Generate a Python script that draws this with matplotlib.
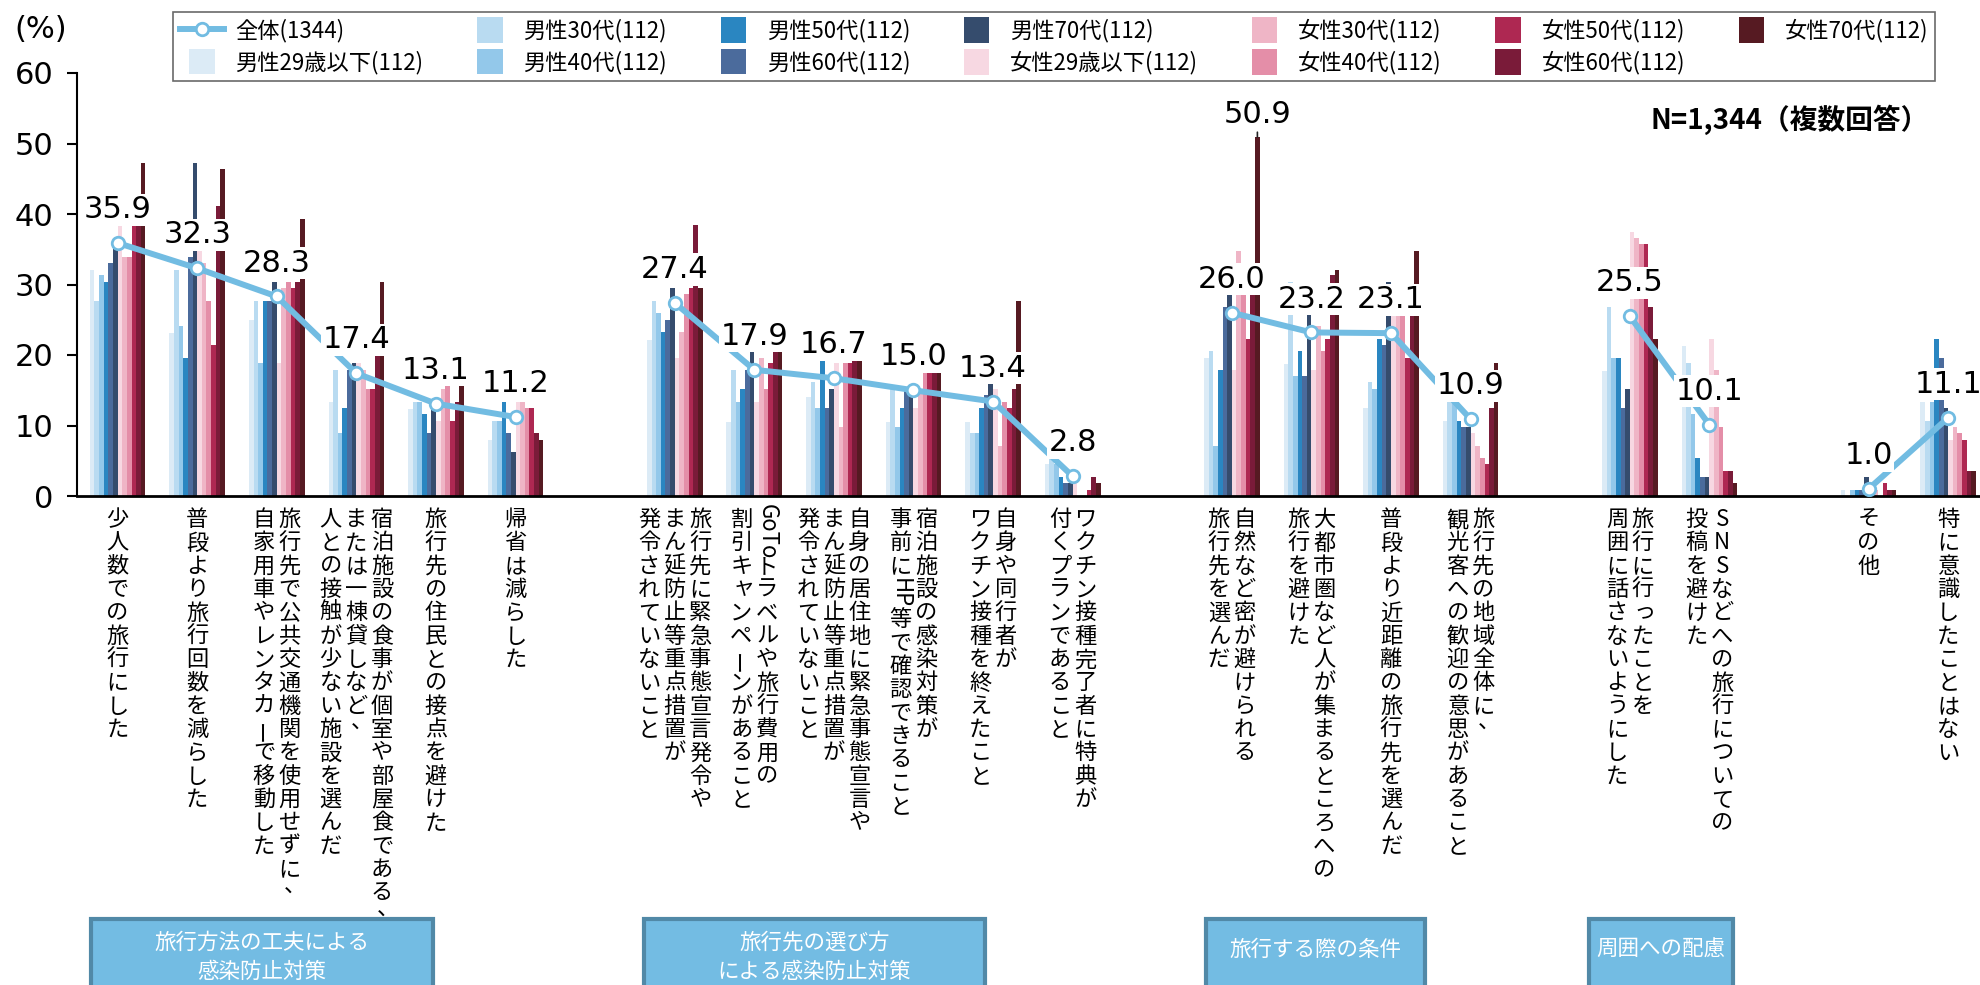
import re

import matplotlib
matplotlib.use("Agg")
import matplotlib.pyplot as plt
from matplotlib.lines import Line2D
from matplotlib.patches import Rectangle
from matplotlib.legend_handler import HandlerPatch

plt.rcParams["font.family"] = ["Noto Sans CJK JP", "DejaVu Sans"]

# ---- data -----------------------------------------------------------------
categories = [
    ["少人数での旅行にした"],
    ["普段より旅行回数を減らした"],
    ["旅行先で公共交通機関を使用せずに、", "自家用車やレンタカーで移動した"],
    ["宿泊施設の食事が個室や部屋食である、", "または一棟貸しなど、", "人との接触が少ない施設を選んだ"],
    ["旅行先の住民との接点を避けた"],
    ["帰省は減らした"],
    ["旅行先に緊急事態宣言発令や", "まん延防止等重点措置が", "発令されていないこと"],
    ["GoToトラベルや旅行費用の", "割引キャンペーンがあること"],
    ["自身の居住地に緊急事態宣言や", "まん延防止等重点措置が", "発令されていないこと"],
    ["宿泊施設の感染対策が", "事前にHP等で確認できること"],
    ["自身や同行者が", "ワクチン接種を終えたこと"],
    ["ワクチン接種完了者に特典が", "付くプランであること"],
    ["自然など密が避けられる", "旅行先を選んだ"],
    ["大都市圏など人が集まるところへの", "旅行を避けた"],
    ["普段より近距離の旅行先を選んだ"],
    ["旅行先の地域全体に、", "観光客への歓迎の意思があること"],
    ["旅行に行ったことを", "周囲に話さないようにした"],
    ["SNSなどへの旅行についての", "投稿を避けた"],
    ["その他"],
    ["特に意識したことはない"],
]
positions = [0, 1, 2, 3, 4, 5, 7, 8, 9, 10, 11, 12, 14, 15, 16, 17, 19, 20, 22, 23]
line_groups = [range(0, 6), range(6, 12), range(12, 16), range(16, 18), range(18, 20)]

overall = [35.9, 32.3, 28.3, 17.4, 13.1, 11.2, 27.4, 17.9, 16.7, 15.0,
           13.4, 2.8, 26.0, 23.2, 23.1, 10.9, 25.5, 10.1, 1.0, 11.1]

m29 = [32.1, 23.1, 24.9, 13.3, 12.4, 7.9, 22.1, 10.5, 14.1, 10.5, 10.5, 4.5, 19.6, 18.7, 12.5, 10.6, 17.7, 21.3, 0.9, 13.4]
m30 = [27.7, 32.1, 27.7, 17.9, 13.4, 10.7, 27.7, 17.9, 16.1, 15.2, 8.9, 5.4, 20.5, 30.4, 16.1, 13.4, 26.8, 18.8, 0.0, 10.7]
m40 = [31.3, 24.1, 18.8, 8.9, 13.4, 10.7, 25.9, 13.4, 12.5, 9.8, 8.9, 4.5, 7.1, 17.0, 15.2, 13.4, 19.6, 11.6, 0.9, 13.4]
m50 = [30.4, 19.6, 27.7, 12.5, 11.6, 13.4, 23.2, 15.2, 19.6, 12.5, 12.5, 2.7, 17.9, 20.5, 22.3, 10.7, 19.6, 5.4, 0.9, 22.3]
m60 = [33.0, 33.9, 27.7, 17.9, 8.9, 8.9, 25.0, 17.9, 12.5, 15.2, 14.3, 1.8, 26.8, 17.0, 21.4, 9.8, 12.5, 2.7, 0.9, 19.6]
m70 = [35.7, 47.3, 30.4, 18.8, 12.5, 6.3, 29.5, 20.5, 15.2, 15.2, 16.1, 1.8, 28.6, 25.9, 30.4, 9.8, 15.2, 2.7, 2.7, 12.5]
f29 = [38.4, 34.8, 18.8, 18.8, 10.7, 13.4, 19.6, 13.4, 18.8, 12.5, 15.2, 1.8, 17.9, 17.9, 25.9, 8.9, 37.5, 22.3, 0.9, 8.0]
f30 = [33.9, 33.0, 29.5, 17.9, 15.2, 13.4, 23.2, 19.6, 9.8, 15.2, 7.1, 0.0, 34.8, 24.1, 25.9, 7.1, 36.6, 17.9, 0.9, 9.8]
f40 = [33.9, 27.7, 30.4, 15.2, 15.6, 12.5, 28.6, 15.2, 18.8, 17.9, 13.4, 0.0, 28.6, 20.5, 25.9, 5.4, 35.7, 9.8, 0.0, 8.9]
f50 = [38.4, 21.4, 29.5, 15.2, 10.7, 12.5, 29.5, 18.8, 18.8, 17.9, 12.5, 0.9, 22.3, 22.3, 19.6, 4.5, 35.7, 3.6, 1.8, 8.0]
f60 = [38.4, 41.1, 30.4, 20.5, 13.4, 8.9, 38.4, 20.5, 19.6, 17.9, 15.2, 2.7, 28.6, 31.3, 25.9, 12.5, 26.8, 3.6, 0.9, 3.6]
f70 = [47.3, 46.4, 39.3, 30.4, 15.6, 8.0, 29.5, 20.5, 19.6, 17.9, 27.7, 1.8, 50.9, 32.1, 34.8, 18.8, 22.3, 1.8, 0.9, 3.6]

series = [m29, m30, m40, m50, m60, m70, f29, f30, f40, f50, f60, f70]
series_labels = ["男性29歳以下(112)", "男性30代(112)", "男性40代(112)", "男性50代(112)",
                 "男性60代(112)", "男性70代(112)", "女性29歳以下(112)", "女性30代(112)",
                 "女性40代(112)", "女性50代(112)", "女性60代(112)", "女性70代(112)"]
series_colors = ["#dcebf6", "#b9dbf1", "#93c8ea", "#2a86c1", "#4b6b9c", "#354c6d",
                 "#f7d8e2", "#efb5c6", "#e48ea8", "#ae2852", "#7a1b39", "#561a22"]

group_boxes = [
    (91, 433, ["旅行方法の工夫による", "感染防止対策"]),
    (644, 985, ["旅行先の選び方", "による感染防止対策"]),
    (1206, 1425, ["旅行する際の条件"]),
    (1589, 1733, ["周囲への配慮"]),
]

LINE = "#72bce2"
W, H = 1980, 985

fig = plt.figure(figsize=(W / 100, H / 100), dpi=100)
ax = fig.add_axes([77 / W, 1 - 496 / H, 1 - 77 / W, (496 - 73) / H])

# ---- bars -------------------------------------------------------------------
bw = 0.70 / 12
for k, (vals, col) in enumerate(zip(series, series_colors)):
    xs = [p + (k - 5.5) * bw for p in positions]
    ax.bar(xs, vals, width=bw, color=col, linewidth=0, zorder=2)

# ---- overall line, one segment per group ------------------------------------
for g in line_groups:
    xs = [positions[i] for i in g]
    ys = [overall[i] for i in g]
    ax.plot(xs, ys, color=LINE, lw=4.3, marker="o", ms=9, mfc="white", mec=LINE,
            mew=2, zorder=5, solid_capstyle="butt")

for x, v in zip(positions, overall):
    ax.annotate(f"{v:.1f}", (x, v), xytext=(0, 24), textcoords="offset points",
                ha="center", va="center", fontsize=22, family="DejaVu Sans",
                bbox=dict(boxstyle="square,pad=0.05", fc="white", ec="none"), zorder=6)

# callout for the tallest bar
ax.annotate(f"{f70[12]:.1f}", (positions[12] + 5.5 * bw, f70[12]), xytext=(0, 16),
            textcoords="offset points", ha="center", va="center", fontsize=22,
            family="DejaVu Sans", zorder=6,
            arrowprops=dict(arrowstyle="-", color="#222222", lw=1.2, shrinkA=0, shrinkB=0))

# ---- axes styling -----------------------------------------------------------
ax.set_xlim(-0.51, 23.40)
ax.set_ylim(0, 60)
ax.set_xticks([])
ax.set_yticks(range(0, 61, 10))
ax.tick_params(axis="y", length=7, width=1.5, pad=10, labelsize=22)
for t in ax.get_yticklabels():
    t.set_family("DejaVu Sans")
ax.spines[["top", "right"]].set_visible(False)
ax.spines["left"].set_linewidth(1.5)
ax.spines["bottom"].set_linewidth(2)

fig.text(41 / W, 1 - 30 / H, "(%)", ha="center", va="center", fontsize=22,
         family="DejaVu Sans")
fig.text(1790 / W, 1 - 120 / H, "N=1,344（複数回答）", ha="center", va="center",
         fontsize=20, fontweight="bold")

# ---- vertical (tategaki) category labels --------------------------------------
PITCH = 16.8      # points per character cell
COLSP = 18.5      # points between columns
TOP0 = -8.6       # top of first cell below the axis line
TOKLEN = {"GoTo": 2.0, "HP": 1.3}
SMALL = set("ャュョッゃゅょっ")

for x, cols in zip(positions, categories):
    n = len(cols)
    for j, col in enumerate(cols):
        dx = ((n - 1) / 2 - j) * COLSP
        y = TOP0
        for tok in re.findall(r"GoTo|HP|.", col):
            ln = TOKLEN.get(tok, 1.0)
            cy = y - ln * PITCH / 2
            y -= ln * PITCH
            rot, ox, oy = 0, 0, 0
            if tok in TOKLEN:
                rot = -90
            elif tok == "ー":
                rot = 90
            elif tok == "、":
                ox, oy = 0.25 * PITCH, 0.3 * PITCH
            elif tok in SMALL:
                ox, oy = 0.1 * PITCH, 0.1 * PITCH
            ax.annotate(tok, xy=(x, 0), xycoords=("data", "axes fraction"),
                        xytext=(dx + ox, cy + oy), textcoords="offset points",
                        ha="center", va="center", fontsize=16, rotation=rot,
                        annotation_clip=False)

# ---- group boxes at the bottom ------------------------------------------------
for x0, x1, lines in group_boxes:
    top = 1 - 919 / H
    fig.add_artist(Rectangle((x0 / W, -0.05), (x1 - x0) / W, top + 0.05,
                             transform=fig.transFigure, fc="#73bce3", ec="#5189a7", lw=3))
    cx = (x0 + x1) / 2 / W
    if len(lines) == 2:
        ys = [943, 972]
    else:
        ys = [950]
    for s, yy in zip(lines, ys):
        fig.text(cx, 1 - yy / H, s, ha="center", va="center", fontsize=15.5, color="white")

# ---- legend -------------------------------------------------------------------
def square(legend, orig_handle, xdescent, ydescent, width, height, fontsize):
    s = 1.15 * fontsize
    return Rectangle((-xdescent + (width - s) / 2, -ydescent + (height - s) / 2), s, s)


handles = [Line2D([], [], color=LINE, lw=4.3, marker="o", ms=9, mfc="white", mec=LINE, mew=2)]
handles += [Rectangle((0, 0), 1, 1, fc=c, lw=0) for c in series_colors]
labels = ["全体(1344)"] + series_labels
leg = fig.legend(handles, labels, loc="lower left",
                 bbox_to_anchor=(173 / W, 1 - 81 / H, (1935 - 173) / W, 76 / H),
                 mode="expand", ncol=7, fontsize=16, frameon=True, fancybox=False,
                 edgecolor="#444444", handlelength=2.0, handleheight=1.0,
                 handletextpad=0.5, labelspacing=0.35, borderaxespad=0, borderpad=0.3,
                 handler_map={Rectangle: HandlerPatch(patch_func=square)})
leg.get_frame().set_linewidth(1.2)

fig.savefig("out.png", dpi=100)
